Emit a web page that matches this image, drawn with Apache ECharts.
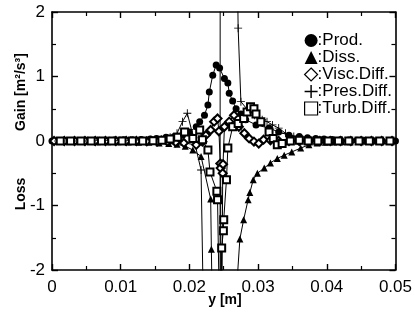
<!DOCTYPE html>
<html>
<head>
<meta charset="utf-8">
<script src="https://cdn.jsdelivr.net/npm/echarts@6/dist/echarts.min.js"></script>
<style>html,body{margin:0;padding:0;background:#fff;}#c{width:415px;height:326px;}</style>
</head>
<body>
<div id="c"></div>
<script>
// ---- data (y [m], energy budget term [m^2/s^3]) ----
const seriesNames = ['Prod.', 'Diss.', 'Visc.Diff.', 'Pres.Diff.', 'Turb.Diff.'];
const xTicks = [0, 0.01, 0.02, 0.03, 0.04, 0.05];
const yTicks = [-2, -1, 0, 1, 2];

const prodData = [
  [0, 0], [0.0013, 0], [0.0026, 0.005], [0.0039, 0.005], [0.0052, 0.01], [0.0065, 0.01],
  [0.0078, 0.01], [0.0091, 0.015], [0.0104, 0.02], [0.0117, 0.02], [0.013, 0.025], [0.0143, 0.03],
  [0.0152, 0.04], [0.0166, 0.06], [0.0178, 0.07], [0.019, 0.09], [0.02, 0.14], [0.021, 0.22],
  [0.0215, 0.30], [0.0222, 0.40], [0.0227, 0.56], [0.0229, 0.76], [0.0234, 1.02], [0.0239, 1.18],
  [0.0244, 1.13], [0.0251, 0.97], [0.0256, 0.90], [0.0258, 0.74], [0.0263, 0.62], [0.0268, 0.50],
  [0.0275, 0.42], [0.0282, 0.33], [0.0297, 0.25], [0.0316, 0.20], [0.033, 0.14], [0.0345, 0.09],
  [0.036, 0.07], [0.0372, 0.05], [0.0384, 0.04], [0.0396, 0.03], [0.0408, 0.025], [0.042, 0.02],
  [0.0432, 0.015], [0.0444, 0.01], [0.0456, 0.01], [0.0468, 0.005], [0.048, 0.005], [0.0492, 0], [0.05, 0]
];
const dissData = [
  [0.0006, 0], [0.0021, 0], [0.0036, -0.005], [0.0051, -0.005], [0.0066, -0.01], [0.0081, -0.01],
  [0.0096, -0.01], [0.0111, -0.015], [0.0126, -0.02], [0.0141, -0.02], [0.0156, -0.03], [0.017, -0.04],
  [0.0182, -0.05], [0.0194, -0.08], [0.0205, -0.14], [0.0217, -0.24], [0.0231, -0.9], [0.0232, -1.68],
  [0.0234, -3.0], [0.024, -4.0], [0.0255, -4.5], [0.02735, -1.52], [0.0279, -1.22], [0.02855, -0.91],
  [0.0288, -0.80], [0.0293, -0.60], [0.0299, -0.50], [0.0309, -0.42], [0.0318, -0.34], [0.0328, -0.27],
  [0.0338, -0.22], [0.0349, -0.17], [0.0362, -0.11], [0.0374, -0.06], [0.0386, -0.03], [0.0398, -0.02],
  [0.041, -0.015], [0.0422, -0.01], [0.0434, -0.01], [0.0446, -0.005], [0.0458, -0.005], [0.047, 0],
  [0.0482, 0], [0.0494, 0]
];
const viscData = [
  [0.0003, 0], [0.0018, 0], [0.0033, 0], [0.0048, 0], [0.0063, 0], [0.0078, 0], [0.0093, 0],
  [0.0108, 0], [0.0123, 0], [0.0138, -0.005], [0.0153, -0.01], [0.0168, -0.01], [0.018, -0.02],
  [0.0192, -0.03], [0.021, -0.06], [0.0219, -0.01], [0.0224, 0.09], [0.0231, 0.17], [0.0236, 0.30],
  [0.0241, 0.35], [0.0243, 0.15], [0.0245, -0.35], [0.02455, -0.42], [0.0246, -5], [0.0248, -5],
  [0.02485, -0.5], [0.0249, -0.36], [0.0251, 0.22], [0.0258, 0.30], [0.0265, 0.40], [0.0272, 0.22],
  [0.028, 0.12], [0.0287, 0.04], [0.0294, -0.01], [0.0301, -0.04], [0.0308, 0.02], [0.0318, 0.01],
  [0.033, 0], [0.0345, 0], [0.036, 0], [0.0375, 0], [0.039, 0], [0.0405, 0], [0.042, 0], [0.0435, 0],
  [0.045, 0], [0.0465, 0], [0.048, 0], [0.0495, 0]
];
const presData = [
  [0.0009, 0], [0.0024, 0], [0.0039, 0], [0.0054, 0], [0.0069, 0.005], [0.0084, 0.005], [0.0099, 0.01],
  [0.0114, 0.01], [0.0129, 0.015], [0.0144, 0.02], [0.0159, 0.03], [0.0172, 0.06], [0.0182, 0.12],
  [0.019, 0.30], [0.0197, 0.43], [0.0206, 0.05], [0.0217, -0.45], [0.0221, -3], [0.0244, -30],
  [0.02455, 30], [0.0268, 4], [0.0271, 1.75], [0.0275, 0.61], [0.0285, 0.48], [0.0295, 0.40],
  [0.0306, 0.33], [0.0313, 0.30], [0.0321, 0.25], [0.033, 0.20], [0.034, 0.12], [0.0352, 0.07],
  [0.0364, 0.03], [0.0377, 0.01], [0.039, 0], [0.0405, 0], [0.042, 0], [0.0435, 0], [0.045, 0],
  [0.0465, 0], [0.048, 0], [0.0495, 0]
];
const turbData = [
  [0.0012, 0], [0.0027, 0], [0.0042, 0], [0.0057, 0], [0.0072, 0], [0.0087, 0], [0.0102, 0],
  [0.0117, 0], [0.0132, 0], [0.0147, 0.005], [0.016, 0.01], [0.0172, 0.03], [0.0183, 0.06],
  [0.0193, 0.14], [0.0205, 0.04], [0.0215, 0.17], [0.0219, 0.02], [0.0227, -0.14], [0.023, -0.48],
  [0.024, -0.78], [0.0241, -0.91], [0.0245, -3.5], [0.0246, -3.5], [0.0247, -1.66], [0.02495, -1.39],
  [0.025, -1.22], [0.0254, -0.6], [0.0256, -0.11], [0.0263, 0.22], [0.0271, 0.27], [0.0279, 0.35],
  [0.0284, 0.45], [0.0289, 0.53], [0.0294, 0.50], [0.0297, 0.42], [0.0304, 0.30], [0.0316, 0.14],
  [0.0322, 0.04], [0.0328, -0.06], [0.0335, -0.04], [0.0347, 0], [0.036, 0.01], [0.0373, 0],
  [0.0387, 0], [0.0402, 0], [0.0417, 0], [0.0432, 0], [0.0447, 0], [0.0462, 0], [0.0477, 0], [0.0492, 0]
];

// ---- chart ----
const FONT = "'Liberation Sans', Arial, Helvetica, sans-serif";
const plusPath = 'path://M4,0L5,0L5,4L9,4L9,5L5,5L5,9L4,9L4,5L0,5L0,4L4,4Z';
const axisCommon = {
  type: 'value',
  axisLine: { show: true, onZero: false, lineStyle: { color: '#000', width: 1.6 } },
  axisTick: { show: true, inside: true, length: 6, lineStyle: { color: '#000', width: 1.4 } },
  minorTick: { show: true, splitNumber: 2, length: 4, lineStyle: { color: '#000', width: 1.2 } },
  splitLine: { show: false },
  minorSplitLine: { show: false }
};
const labelStyle = { color: '#000', fontSize: 17, fontFamily: FONT };

const chart = echarts.init(document.getElementById('c'), null, { renderer: 'canvas' });
const mk = (name, data, symbol, size, itemStyle) => ({
  name, type: 'line', data, symbol, symbolSize: size, showSymbol: true,
  clip: true, animation: false,
  lineStyle: { color: '#000', width: 1 },
  itemStyle: Object.assign({ color: '#000' }, itemStyle || {})
});

chart.setOption({
  animation: false,
  backgroundColor: '#fff',
  grid: { left: 52, right: 18, top: 12, bottom: 56 },
  xAxis: [
    Object.assign({}, axisCommon, {
      min: xTicks[0], max: xTicks[xTicks.length - 1], interval: 0.01, position: 'bottom',
      axisLabel: Object.assign({}, labelStyle, { margin: 9, formatter: v => (v === 0 ? '0' : String(+v.toFixed(2))) })
    }),
    Object.assign({}, axisCommon, {
      min: xTicks[0], max: xTicks[xTicks.length - 1], interval: 0.01, position: 'top',
      axisLabel: { show: false }
    })
  ],
  yAxis: [
    Object.assign({}, axisCommon, {
      min: yTicks[0], max: yTicks[yTicks.length - 1], interval: 1, position: 'left',
      axisLabel: Object.assign({}, labelStyle, { margin: 7 })
    }),
    Object.assign({}, axisCommon, {
      min: yTicks[0], max: yTicks[yTicks.length - 1], interval: 1, position: 'right',
      axisLabel: { show: false }
    })
  ],
  legend: {
    orient: 'vertical', left: 304, top: 32, itemWidth: 13, itemHeight: 13, itemGap: 0,
    padding: 0,
    formatter: n => ':' + n,
    textStyle: { color: '#000', fontSize: 17, lineHeight: 13.8, fontFamily: FONT, padding: [0, 0, 0, -5] },
    data: [
      { name: seriesNames[0], icon: 'circle' },
      { name: seriesNames[1], icon: 'triangle' },
      { name: seriesNames[2], icon: 'diamond', itemStyle: { color: '#fff', borderColor: '#000', borderWidth: 1.2 } },
      { name: seriesNames[3], icon: plusPath },
      { name: seriesNames[4], icon: 'rect', itemStyle: { color: '#fff', borderColor: '#000', borderWidth: 1.2 } }
    ]
  },
  graphic: [
    { type: 'text', x: 225, y: 300, style: { text: 'y [m]', font: 'bold 14px ' + FONT, fill: '#000', align: 'center', verticalAlign: 'middle' } },
    { type: 'text', x: 21, y: 92, rotation: Math.PI / 2, style: { text: 'Gain [m²/s³]', font: 'bold 14px ' + FONT, fill: '#000', align: 'center', verticalAlign: 'middle' } },
    { type: 'text', x: 21, y: 194, rotation: Math.PI / 2, style: { text: 'Loss', font: 'bold 14px ' + FONT, fill: '#000', align: 'center', verticalAlign: 'middle' } }
  ],
  series: [
    mk(seriesNames[0], prodData, 'circle', 7),
    mk(seriesNames[1], dissData, 'triangle', 7),
    mk(seriesNames[2], viscData, 'emptyDiamond', 8, { borderWidth: 1 }),
    mk(seriesNames[3], presData, plusPath, 8),
    mk(seriesNames[4], turbData, 'emptyRect', 7, { borderWidth: 1 })
  ]
});
</script>
</body>
</html>
